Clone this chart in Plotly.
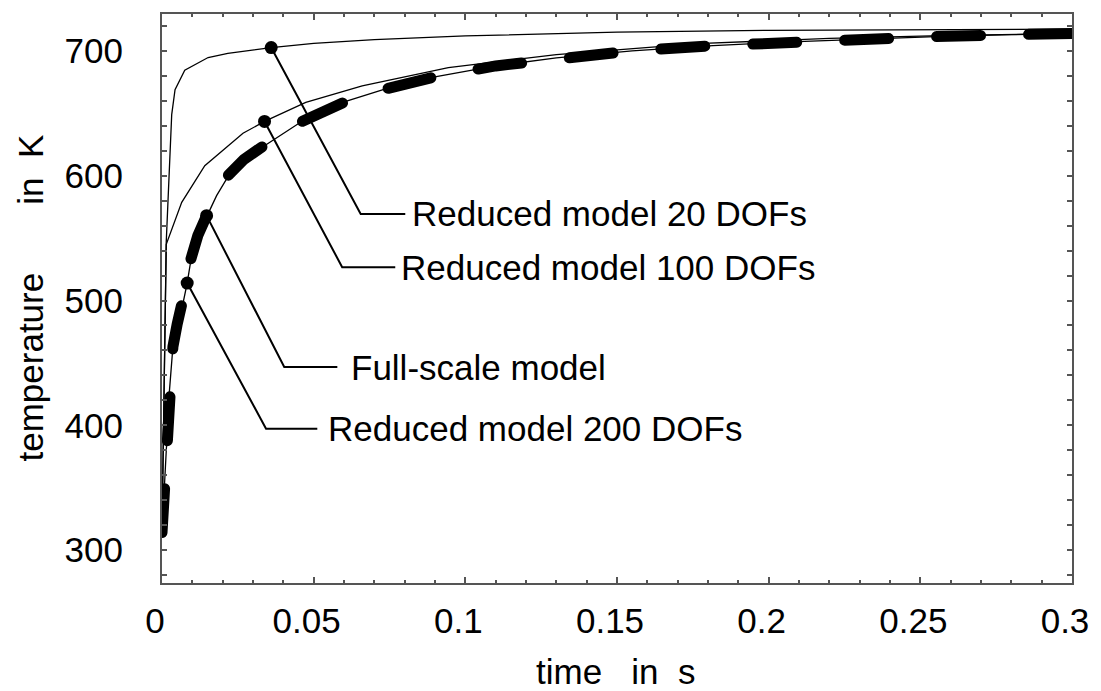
import plotly.graph_objects as go

# ---------------- data ----------------
t_full = [0, 0.0006, 0.0012, 0.0018, 0.0024, 0.0036, 0.005, 0.0066, 0.0083,
          0.0095, 0.0118, 0.0147, 0.018, 0.0217, 0.027, 0.0338, 0.04, 0.0458, 0.0535, 0.0611,
          0.0737, 0.0895, 0.11, 0.13, 0.155, 0.18, 0.205, 0.23, 0.255, 0.28, 0.3]
T_full = [314, 340, 375, 405, 425, 463, 481, 495, 516,
          533, 552, 568, 585, 600, 613, 625, 635, 643, 652, 660,
          669.5, 679, 688, 694, 700, 704, 707, 709.5, 711.5, 713, 714]

t_200 = [0, 0.0006, 0.0012, 0.0018, 0.0024, 0.0036, 0.005, 0.0066, 0.0083,
         0.0095, 0.0118, 0.0147, 0.018, 0.0217, 0.027, 0.0338, 0.04, 0.0458, 0.0535, 0.0611,
         0.0737, 0.0895, 0.11, 0.13, 0.155, 0.18, 0.205, 0.23, 0.255, 0.28, 0.3]
T_200 = [314, 341, 376, 406, 426, 463, 480, 494, 514,
         532, 551, 567, 584, 599, 612, 624, 634, 643, 652, 660,
         669.5, 679, 688, 694.5, 700, 704, 707, 709.5, 711.5, 713, 714]

t_100 = [0, 0.0014, 0.0065, 0.0141, 0.0267, 0.0338, 0.0474,
         0.066, 0.0944, 0.13, 0.1764, 0.22, 0.26, 0.3]
T_100 = [314, 545, 578.7, 608, 634, 643.5, 658.7,
         672, 686.7, 697, 705.9, 710, 712.5, 714]

t_20 = [0, 0.0014, 0.0032, 0.0043, 0.0075, 0.0152, 0.0217,
        0.036, 0.05, 0.07, 0.1, 0.15, 0.2, 0.25, 0.3]
T_20 = [314, 547, 649, 669, 684.5, 694.7, 698,
        702.7, 706, 709, 712, 715, 716.5, 717.2, 717.5]

# marked points (on the curves) and their labels
labels = ["Reduced model 20 DOFs", "Reduced model 100 DOFs", "Full-scale model", "Reduced model 200 DOFs"]
mark_t = [0.036, 0.0338, 0.0147, 0.0083]
mark_T = [702.7, 643.5, 568, 514]
elbow_t = [0.0655, 0.0594, 0.0403, 0.0343]
elbow_T = [569.4, 526.7, 446.7, 397.3]
end_t = [0.0802, 0.0769, 0.0578, 0.0512]
text_t = [0.0818, 0.078, 0.0616, 0.054]

x_ticks = [0, 0.05, 0.1, 0.15, 0.2, 0.25, 0.3]
x_ticktext = ["0", "0.05", "0.1", "0.15", "0.2", "0.25", "0.3"]
y_ticks = [300, 400, 500, 600, 700]

FONT = "Liberation Sans, Arial, sans-serif"
FS = 35
AXC = "#555555"

fig = go.Figure()

fig.add_trace(go.Scatter(x=t_full, y=T_full, mode="lines",
                         line=dict(color="black", width=11, dash="44px,48px"),
                         hoverinfo="skip"))
for tt, TT in [(t_200, T_200), (t_100, T_100), (t_20, T_20)]:
    fig.add_trace(go.Scatter(x=tt, y=TT, mode="lines",
                             line=dict(color="black", width=1.3), hoverinfo="skip"))

for i in range(len(labels)):
    fig.add_trace(go.Scatter(x=[mark_t[i], elbow_t[i], end_t[i]],
                             y=[mark_T[i], elbow_T[i], elbow_T[i]],
                             mode="lines", line=dict(color="black", width=2),
                             hoverinfo="skip"))
    fig.add_annotation(x=text_t[i], y=elbow_T[i], text=labels[i], showarrow=False,
                       xanchor="left", yanchor="middle",
                       font=dict(family=FONT, size=FS, color="black"))

fig.add_trace(go.Scatter(x=mark_t, y=mark_T, mode="markers",
                         marker=dict(color="black", size=13), hoverinfo="skip"))

fig.update_layout(
    width=1101, height=691,
    margin=dict(l=162, r=24, t=13, b=108),
    paper_bgcolor="white", plot_bgcolor="white",
    showlegend=False,
    font=dict(family=FONT, size=FS, color="black"),
)
fig.update_xaxes(range=[0, 0.3], tickvals=x_ticks, ticktext=x_ticktext,
                 showgrid=False, zeroline=False,
                 showline=True, linecolor=AXC, linewidth=2, mirror="ticks",
                 ticks="inside", ticklen=6, tickwidth=1.5, tickcolor=AXC,
                 minor=dict(dtick=0.01, ticks="inside", ticklen=3, tickcolor=AXC, tickwidth=1.5, showgrid=False),
                 ticklabeloverflow="allow", ticklabelshift=-7, ticklabelstandoff=6,
                 tickfont=dict(family=FONT, size=FS, color="black"))
fig.update_yaxes(range=[273.6, 729.6], tickvals=y_ticks,
                 showgrid=False, zeroline=False,
                 showline=True, linecolor=AXC, linewidth=2, mirror="ticks",
                 ticks="inside", ticklen=5, tickwidth=1.5, tickcolor=AXC,
                 minor=dict(dtick=20, ticks="inside", ticklen=5, tickcolor=AXC, tickwidth=1.5, showgrid=False),
                 ticklabelstandoff=30,
                 tickfont=dict(family=FONT, size=FS, color="black"))

fig.add_annotation(xref="paper", yref="paper", x=0.5, y=0, xshift=-2, yshift=-88,
                   xanchor="center", yanchor="middle", showarrow=False,
                   text="time\u00a0\u00a0\u00a0in\u00a0\u00a0s",
                   font=dict(family=FONT, size=FS, color="black"))
fig.add_annotation(xref="paper", yref="paper", x=0, y=0.5, xshift=-132, yshift=0,
                   xanchor="center", yanchor="middle", showarrow=False, textangle=-90,
                   text="temperature" + "\u00a0" * 7 + "in\u00a0\u00a0K",
                   font=dict(family=FONT, size=FS, color="black"))

post = """
document.querySelectorAll('path.js-line').forEach(function(p){
  if (parseFloat(p.style.strokeWidth) > 5) { p.style.strokeLinecap = 'round'; }
});
"""
fig.write_html("out.html", post_script=post)
